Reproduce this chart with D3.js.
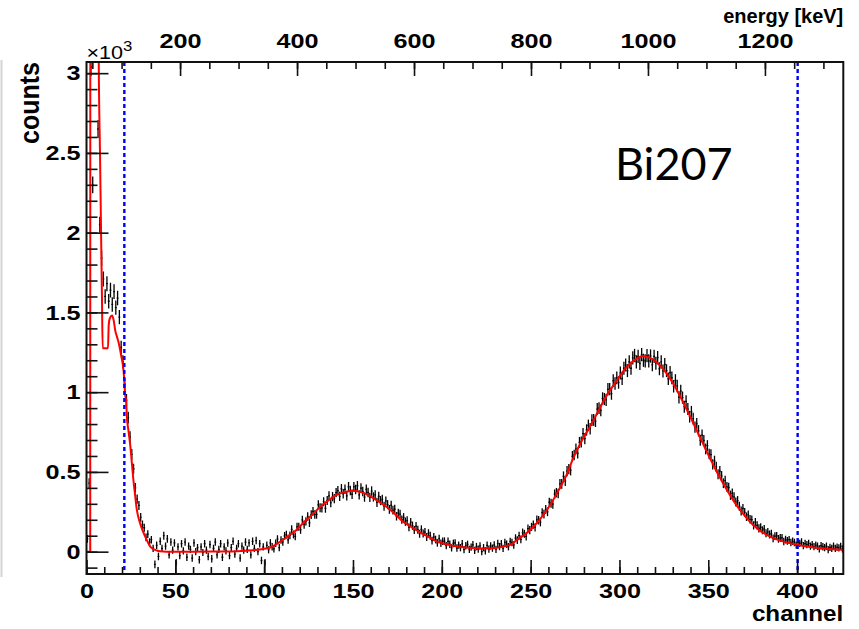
<!DOCTYPE html>
<html>
<head>
<meta charset="utf-8">
<script src="https://cdn.jsdelivr.net/npm/d3@7"></script>
<style>
  body { margin: 0; background: #fff; }
  svg { display: block; }
</style>
</head>
<body>
<svg id="chart" width="859" height="629"></svg>
<script>
// ---- data (counts per channel, background subtracted) ----
const counts = [
  80, 430, 3040, 2300, 3600, 3400, 2650, 2050, 1840, 1710,
  1600, 1680, 1570, 1640, 1550, 1630, 1530, 1590, 1470, 1280,
  1190, 1050, 950, 840, 720, 610, 520, 400, 330, 290,
  215, 170, 150, 90, 110, 60, 75, 20, -80, 40,
  -30, 65, 20, 100, 35, 80, -20, 60, 10, 55,
  -70, 30, -25, 50, 5, 60, -35, 35, 15, -40,
  55, 0, 25, -50, 30, -5, 50, 10, -30, 45,
  -45, 20, 60, -20, 15, 50, -35, 30, 5, 55,
  -25, 25, 65, -15, 20, 50, -40, 35, 10, 60,
  15, 55, -20, 65, 20, 70, 0, 50, -55, 30,
  -70, 40, 12, 55, 31, 17, 53, 79, 25, 73,
  61, 99, 107, 74, 102, 140, 108, 96, 155, 156,
  137, 199, 170, 190, 221, 181, 232, 252, 233, 234,
  294, 275, 274, 313, 272, 321, 350, 307, 345, 332,
  370, 382, 346, 394, 363, 391, 350, 407, 383, 360,
  407, 390, 413, 356, 399, 377, 342, 391, 371, 340,
  380, 343, 356, 309, 347, 320, 328, 285, 318, 295,
  265, 291, 261, 267, 222, 242, 236, 201, 215, 188,
  195, 153, 185, 163, 136, 160, 138, 112, 140, 114,
  123, 92, 116, 100, 69, 92, 76, 55, 82, 53,
  65, 66, 38, 65, 47, 24, 52, 55, 23, 41,
  25, 49, 13, 37, 46, 15, 29, 43, 8, 32,
  16, 36, 0, 25, 5, 40, 16, 36, 22, 42,
  14, 51, 32, 49, 21, 58, 47, 31, 64, 58,
  42, 85, 72, 100, 77, 120, 112, 95, 145, 135,
  155, 170, 152, 200, 197, 185, 245, 235, 265, 250,
  310, 304, 298, 361, 370, 365, 425, 425, 472, 443,
  505, 518, 510, 598, 606, 645, 617, 685, 688, 740,
  709, 763, 792, 771, 825, 826, 818, 894, 900, 886,
  961, 957, 952, 1018, 1019, 991, 1072, 1054, 1090, 1061,
  1120, 1085, 1150, 1170, 1135, 1190, 1150, 1215, 1230, 1190,
  1225, 1180, 1235, 1200, 1196, 1229, 1196, 1227, 1172, 1224,
  1181, 1217, 1147, 1190, 1133, 1174, 1135, 1084, 1123, 1090,
  1037, 1073, 1039, 968, 1007, 966, 909, 942, 894, 846,
  877, 834, 781, 802, 758, 699, 731, 697, 644, 665,
  612, 609, 547, 569, 532, 486, 505, 474, 429, 445,
  406, 402, 354, 366, 343, 311, 320, 285, 255, 271,
  247, 219, 231, 203, 201, 165, 185, 165, 146, 152,
  134, 142, 115, 124, 108, 113, 83, 98, 99, 80,
  86, 87, 64, 76, 68, 75, 57, 65, 58, 41,
  59, 52, 60, 38, 51, 44, 52, 35, 44, 32,
  41, 34, 18, 37, 31, 25, 34, 13, 27, 21,
  35, 20, 29, 24, 33, 18
];

// fit function (red), [channel, counts]
const fitPoints = [
  [0, 0], [2.1, 0], [2.15, 3600], [6.85, 3600], [6.9, 3070], [7.6, 2500], [8.2, 2000],
  [8.7, 1600], [9.1, 1275], [12.1, 1275], [12.5, 1420], [13.2, 1465], [14.4, 1480],
  [15.3, 1450], [16.2, 1385], [17.2, 1345], [18.1, 1310], [19.5, 1230], [20.9, 1130],
  [21.8, 980], [22.3, 950], [22.7, 850], [23.6, 760], [24.5, 680], [25.5, 560],
  [26.4, 450], [27.4, 350], [28.3, 265], [29.2, 215], [30.1, 180], [31.5, 135],
  [33, 96], [34.5, 60], [35.8, 33], [37.5, 18], [39.5, 8], [41.4, 2], [45, 0],
  [60, 0], [75, 1], [85, 3], [90, 6], [95, 10], [100, 18], [103, 25], [108, 55],
  [113, 94], [118, 135], [122, 180], [127, 232], [131.5, 280], [136, 320], [141, 357],
  [146, 375], [150, 382], [155, 372], [160, 345], [165, 310], [169, 280], [174, 232],
  [178, 190], [183, 153], [188, 120], [193, 90], [197, 65], [202, 48], [206, 37],
  [211, 29], [216, 24], [223, 20], [229, 22], [235, 33], [240, 52], [243, 80],
  [247, 110], [251, 150], [255, 200], [260, 275], [264, 350], [267, 410], [270, 475],
  [274, 586], [279, 700], [284, 795], [288, 880], [293, 983], [298, 1065], [302, 1130],
  [306, 1179], [310, 1212], [313, 1227], [316, 1221], [320, 1196], [325, 1139],
  [330, 1057], [335, 956], [340, 842], [345, 724], [350, 607], [355, 496], [360, 396],
  [365, 306], [370, 232], [375, 170], [380, 124], [385, 93], [390, 71], [395, 55],
  [400, 44], [405, 34], [410, 26], [415, 20], [420, 15], [426, 12]
];

const cutChannels = [21, 400];
const channelTicks = [0, 50, 100, 150, 200, 250, 300, 350, 400];
const countTicks = [0, 500, 1000, 1500, 2000, 2500, 3000];
const energyTicks = [200, 400, 600, 800, 1000, 1200];
const energyCalib = [40, 1334];   // keV at channel 0 and at channel 426
const label = "Bi207";

// ---- layout ----
const svg = d3.select("#chart");
const frame = { left: 86.5, right: 843.3, top: 62, bottom: 574 };
const font = "'Liberation Sans', Arial, Helvetica, sans-serif";
const SX = 1.2; // ROOT picture is stretched horizontally

const x = d3.scaleLinear().domain([0, 426]).range([frame.left, frame.right]);
const y = d3.scaleLinear().domain([-140, 3070]).range([frame.bottom, frame.top]);
const xe = d3.scaleLinear().domain(energyCalib).range([frame.left, frame.right]);

function stretch(sel, sx = SX) {
  sel.each(function () {
    const t = d3.select(this);
    const x0 = +t.attr("x") || 0;
    t.attr("x", x0 / sx).attr("transform", `scale(${sx},1)`);
  });
}

svg.append("defs").append("clipPath").attr("id", "clip")
  .append("rect")
  .attr("x", frame.left).attr("y", frame.top)
  .attr("width", frame.right - frame.left).attr("height", frame.bottom - frame.top);

// thin grey edge on the far left (crop border in the original)
svg.append("line")
  .attr("x1", 1.5).attr("x2", 1.5).attr("y1", 60).attr("y2", 577)
  .attr("stroke", "#d4d4d4").attr("stroke-width", 2);

// ---- histogram with error bars ----
const plot = svg.append("g").attr("clip-path", "url(#clip)");
const bins = counts.map((n, i) => ({ i, n, e: Math.sqrt(Math.abs(n) + 500) }));

plot.append("g")
  .attr("stroke", "#000")
  .attr("stroke-width", 1.3)
  .selectAll("g")
  .data(bins)
  .enter()
  .append("g")
  .each(function (d) {
    const g = d3.select(this);
    g.append("line")
      .attr("x1", x(d.i)).attr("x2", x(d.i + 1))
      .attr("y1", y(d.n)).attr("y2", y(d.n));
    g.append("line")
      .attr("x1", x(d.i + 0.5)).attr("x2", x(d.i + 0.5))
      .attr("y1", y(d.n - d.e)).attr("y2", y(d.n + d.e));
  });

// ---- fit ----
plot.append("path")
  .datum(fitPoints)
  .attr("fill", "none")
  .attr("stroke", "#ff0000")
  .attr("stroke-width", 2)
  .attr("d", d3.line().x(d => x(d[0])).y(d => y(d[1])).curve(d3.curveMonotoneX));

// ---- cut lines ----
svg.append("g")
  .selectAll("line")
  .data(cutChannels)
  .enter()
  .append("line")
  .attr("x1", d => x(d + 0.3)).attr("x2", d => x(d + 0.3))
  .attr("y1", frame.top).attr("y2", frame.bottom)
  .attr("stroke", "#0000ff")
  .attr("stroke-width", 2.4)
  .attr("stroke-dasharray", "4,3");

// ---- axes ----
function styleAxis(g, size) {
  g.select(".domain").remove();
  g.selectAll("line").attr("stroke", "#111").attr("stroke-width", 1.6);
  g.selectAll("text")
    .attr("fill", "#000")
    .attr("font-family", font)
    .attr("font-weight", "bold")
    .attr("font-size", size);
}

// bottom: channel
svg.append("g")
  .attr("transform", `translate(0,${frame.bottom})`)
  .call(d3.axisBottom(x).tickValues(d3.range(0, 426, 10)).tickSize(-7).tickFormat(""))
  .call(g => styleAxis(g, 20));
svg.append("g")
  .attr("transform", `translate(0,${frame.bottom})`)
  .call(d3.axisBottom(x).tickValues(channelTicks).tickSize(-14).tickPadding(9).tickFormat(d3.format("d")))
  .call(g => styleAxis(g, 21))
  .call(g => g.selectAll("text").call(stretch));

// left: counts (x10^3)
svg.append("g")
  .attr("transform", `translate(${frame.left},0)`)
  .call(d3.axisLeft(y).tickValues(d3.range(-100, 3001, 100)).tickSize(-11).tickFormat(""))
  .call(g => styleAxis(g, 20));
svg.append("g")
  .attr("transform", `translate(${frame.left},0)`)
  .call(d3.axisLeft(y).tickValues(countTicks).tickSize(-22).tickPadding(6).tickFormat(d => d3.format("~g")(d / 1000)))
  .call(g => styleAxis(g, 21))
  .call(g => g.selectAll("text").call(stretch));

// top: energy
svg.append("g")
  .attr("transform", `translate(0,${frame.top})`)
  .call(d3.axisTop(xe).tickValues(d3.range(50, 1334, 50)).tickSize(-7).tickFormat(""))
  .call(g => styleAxis(g, 20));
svg.append("g")
  .attr("transform", `translate(0,${frame.top})`)
  .call(d3.axisTop(xe).tickValues(energyTicks).tickSize(-14).tickPadding(14).tickFormat(d3.format("d")))
  .call(g => styleAxis(g, 21))
  .call(g => g.selectAll("text").call(stretch));

// frame
svg.append("rect")
  .attr("x", frame.left).attr("y", frame.top)
  .attr("width", frame.right - frame.left).attr("height", frame.bottom - frame.top)
  .attr("fill", "none").attr("stroke", "#111").attr("stroke-width", 2);

// ---- titles ----
const titles = svg.append("g").attr("font-family", font).attr("font-weight", "bold").attr("fill", "#000");

titles.append("text")
  .attr("x", frame.right).attr("y", 621)
  .attr("text-anchor", "end").attr("font-size", 22)
  .text("channel")
  .call(stretch, 1.1);

titles.append("text")
  .attr("x", frame.right).attr("y", 23)
  .attr("text-anchor", "end").attr("font-size", 20)
  .text("energy [keV]");

titles.append("text")
  .attr("transform", `translate(39,${frame.top}) scale(1.1,1) rotate(-90)`)
  .attr("text-anchor", "end").attr("font-size", 25)
  .text("counts");

// x10^3 multiplier
const mult = svg.append("text")
  .attr("x", frame.left).attr("y", 59)
  .attr("font-family", font).attr("font-size", 18).attr("fill", "#000")
  .call(stretch);
mult.append("tspan").text("\u00d710");
mult.append("tspan").attr("dy", -8).attr("font-size", 14).text("3");

// annotation
svg.append("text")
  .attr("x", 615).attr("y", 180)
  .attr("font-family", "Lato, 'Open Sans', sans-serif")
  .attr("font-size", 45)
  .attr("fill", "#000")
  .text(label);
</script>
</body>
</html>
